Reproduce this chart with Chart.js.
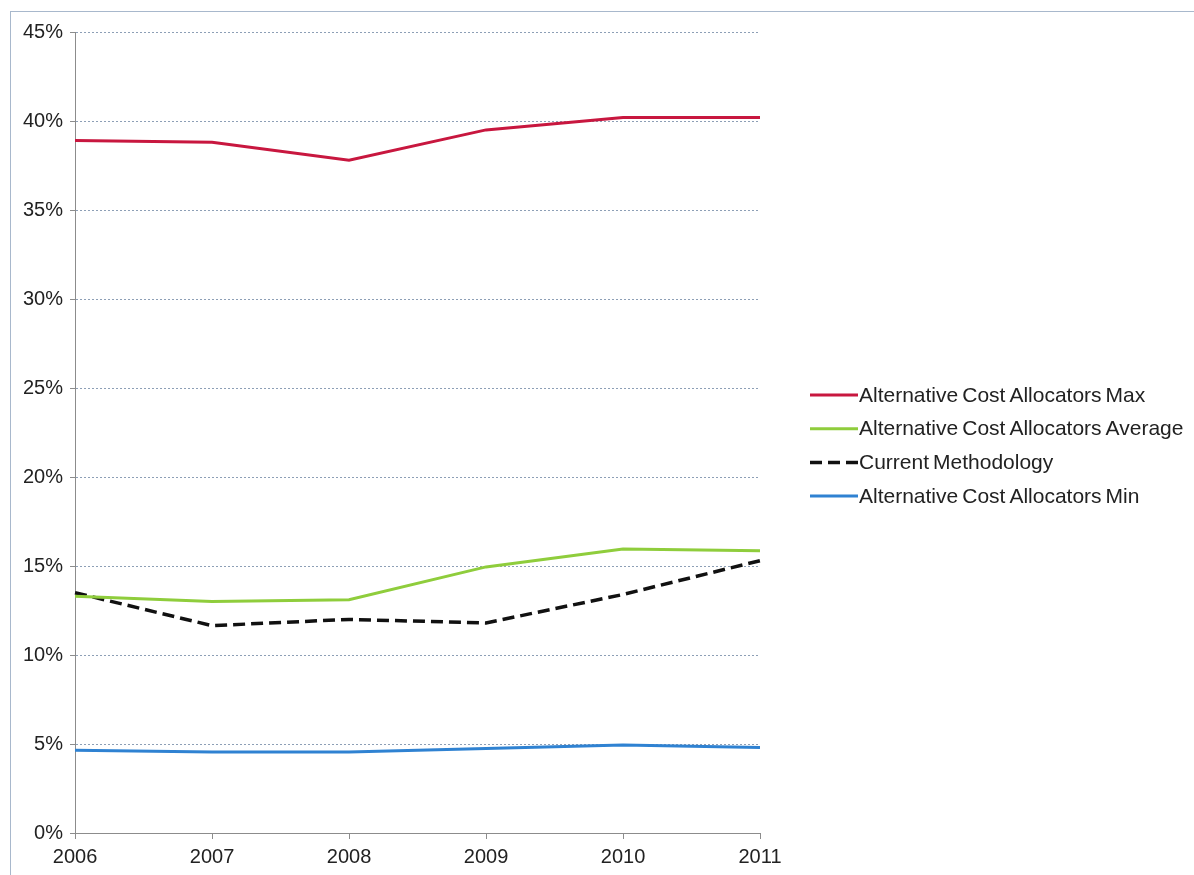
<!DOCTYPE html>
<html>
<head>
<meta charset="utf-8">
<script src="https://cdn.jsdelivr.net/npm/chart.js@4.4.1/dist/chart.umd.min.js"></script>
<style>
  html, body { margin: 0; padding: 0; background: #fff; overflow: hidden; }
  #frame {
    position: absolute; left: 10px; top: 11px; width: 1250px; height: 900px;
    border: 1px solid #a8b8cc; box-sizing: border-box;
  }
  #wrap { position: absolute; left: 0; top: 0; width: 1194px; height: 885px; }
</style>
</head>
<body>
<div id="frame"></div>
<div id="wrap"><canvas id="allocChart"></canvas></div>
<script>
const years = ['2006', '2007', '2008', '2009', '2010', '2011'];
const maxValues = [38.9, 38.8, 37.8, 39.5, 40.2, 40.2];
const avgValues = [13.3, 13.0, 13.1, 14.95, 15.95, 15.85];
const currentValues = [13.5, 11.65, 12.0, 11.8, 13.4, 15.3];
const minValues = [4.65, 4.55, 4.55, 4.75, 4.95, 4.8];

const seriesNames = [
    'Alternative Cost Allocators Max',
    'Alternative Cost Allocators Average',
    'Current Methodology',
    'Alternative Cost Allocators Min'
];

const fontFamily = '"Liberation Sans", Arial, sans-serif';

// Legend stacked to the right of the plot: line sample followed by the label
const sideLegend = {
    id: 'sideLegend',
    afterDraw(chart) {
        const c = chart.ctx;
        const area = chart.chartArea;
        const x0 = area.right + 50;
        const lineW = 48;
        const rowH = 33.7;
        const y0 = 395;
        c.save();
        c.font = '21px ' + fontFamily;
        c.textBaseline = 'middle';
        c.fillStyle = '#222';
        chart.data.datasets.forEach((ds, i) => {
            const y = y0 + i * rowH;
            c.beginPath();
            c.strokeStyle = ds.borderColor;
            c.lineWidth = ds.borderWidth;
            c.setLineDash(ds.borderDash ? [12, 6] : []);
            c.moveTo(x0, y);
            c.lineTo(x0 + lineW, y);
            c.stroke();
            // words set close together, as in the original legend
            let tx = x0 + lineW + 1;
            ds.label.split(' ').forEach((word) => {
                c.fillText(word, tx, y + 1);
                tx += c.measureText(word).width + 4;
            });
        });
        c.restore();
    }
};

const ctx = document.getElementById('allocChart').getContext('2d');
const allocChart = new Chart(ctx, {
    type: 'line',
    data: {
        labels: years,
        datasets: [{
            label: seriesNames[0],
            data: maxValues,
            borderColor: '#c8173f',
            borderWidth: 3
        }, {
            label: seriesNames[1],
            data: avgValues,
            borderColor: '#8fcd3c',
            borderWidth: 3
        }, {
            label: seriesNames[2],
            data: currentValues,
            borderColor: '#111111',
            borderWidth: 3.5,
            borderDash: [12, 6]
        }, {
            label: seriesNames[3],
            data: minValues,
            borderColor: '#2f82d2',
            borderWidth: 3
        }]
    },
    options: {
        responsive: true,
        maintainAspectRatio: false,
        animation: false,
        elements: {
            point: { radius: 0, hoverRadius: 0 },
            line: { tension: 0, fill: false }
        },
        layout: {
            padding: { left: 16, top: 32, right: 434, bottom: 10 }
        },
        scales: {
            x: {
                offset: false,
                grid: {
                    drawOnChartArea: false,
                    drawTicks: true,
                    tickLength: 6,
                    tickColor: '#8c8c8c'
                },
                border: { color: '#8c8c8c', width: 1 },
                ticks: {
                    color: '#222',
                    padding: 6,
                    maxRotation: 0,
                    font: { family: fontFamily, size: 20 }
                }
            },
            y: {
                min: 0,
                max: 45,
                grid: {
                    color: '#8d9fb6',
                    lineWidth: 1,
                    tickLength: 5,
                    tickColor: '#8c8c8c'
                },
                border: { color: '#8c8c8c', width: 1, dash: [2, 2] },
                ticks: {
                    stepSize: 5,
                    color: '#222',
                    padding: 7,
                    font: { family: fontFamily, size: 20 },
                    callback: (v) => v + '%'
                }
            }
        },
        plugins: {
            tooltip: { enabled: false },
            legend: { display: false }
        }
    },
    plugins: [sideLegend]
});
</script>
</body>
</html>
